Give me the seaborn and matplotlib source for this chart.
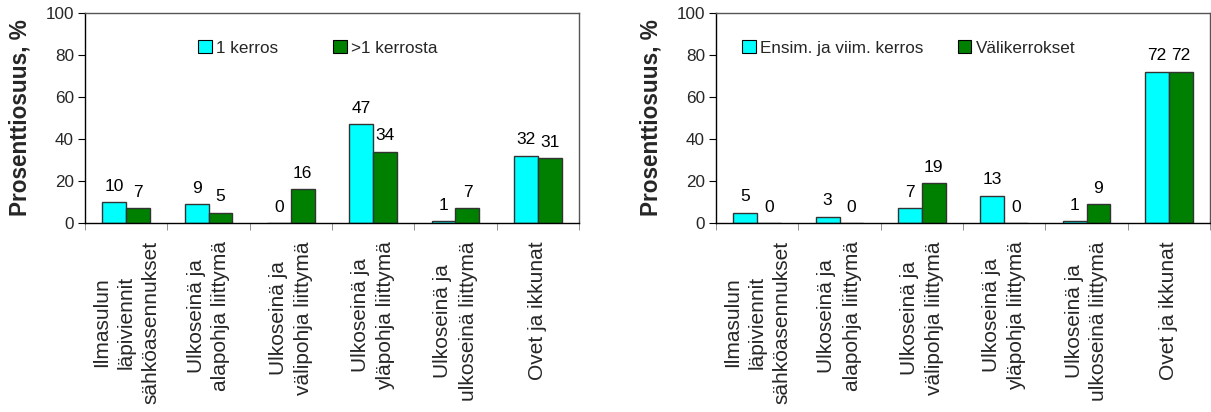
import numpy as np
import pandas as pd
import matplotlib
matplotlib.use("Agg")
import matplotlib.pyplot as plt
from matplotlib.patches import Patch
import seaborn as sns

sns.set_style("white")
plt.rcParams["font.family"] = ["Liberation Sans", "DejaVu Sans"]

categories = [
    "Ilmasulun\nläpiviennit\nsähköasennukset",
    "Ulkoseinä ja\nalapohja liittymä",
    "Ulkoseinä ja\nvälipohja liittymä",
    "Ulkoseinä ja\nyläpohja liittymä",
    "Ulkoseinä ja\nulkoseinä liittymä",
    "Ovet ja ikkunat",
]

# Left chart: single-storey vs multi-storey buildings
left_series = ["1 kerros", ">1 kerrosta"]
left_one_floor = [10, 9, 0, 47, 1, 32]
left_multi_floor = [7, 5, 16, 34, 7, 31]

# Right chart: first/top floors vs intermediate floors
right_series = ["Ensim. ja viim. kerros", "Välikerrokset"]
right_end_floors = [5, 3, 7, 13, 1, 72]
right_mid_floors = [0, 0, 19, 0, 9, 72]

yticks = [0, 20, 40, 60, 80, 100]
ylabel = "Prosenttiosuus, %"
colors = ["#00FFFF", "#008000"]


def long_frame(series_names, first, second):
    return pd.DataFrame({
        "kategoria": categories * 2,
        "sarja": [series_names[0]] * len(categories) + [series_names[1]] * len(categories),
        "arvo": list(first) + list(second),
    })


def draw(ax, series_names, first, second, legend_x, colspace):
    df = long_frame(series_names, first, second)
    sns.barplot(data=df, x="kategoria", y="arvo", hue="sarja", order=categories,
                hue_order=series_names, palette=colors, saturation=1, width=0.58,
                edgecolor="#333333", linewidth=1.0, ax=ax, legend=False)
    for cont in ax.containers:
        ax.bar_label(cont, fmt="%d", padding=6, fontsize=12.5, color="black")

    ax.set_ylim(0, 100)
    ax.set_xlim(-0.5, len(categories) - 0.5)
    ax.set_yticks(yticks)
    ax.tick_params(axis="y", length=5, direction="out", color="black",
                   labelsize=12.3, pad=3, left=True)
    ax.set_xticks(np.arange(-0.5, len(categories), 1), minor=True)
    ax.tick_params(axis="x", which="minor", length=5, direction="out",
                   color="#808080", bottom=True)
    ax.set_xticks(range(len(categories)))
    ax.set_xticklabels(categories, rotation=90, ha="center", va="top",
                       multialignment="center", linespacing=1.4, fontsize=15)
    ax.tick_params(axis="x", which="major", length=0, pad=13)

    ax.set_xlabel("")
    ax.set_ylabel(ylabel, fontsize=16.3, fontweight="bold")
    ax.yaxis.set_label_coords(-0.109, 0.5)

    for side in ["left", "bottom"]:
        ax.spines[side].set_color("black")
        ax.spines[side].set_linewidth(1.0)
    for side in ["top", "right"]:
        ax.spines[side].set_color("#555555")
        ax.spines[side].set_linewidth(1.0)
    ax.grid(False)

    handles = [Patch(facecolor=c, edgecolor="black", linewidth=0.8) for c in colors]
    ax.legend(handles, series_names, loc="center left",
              bbox_to_anchor=(legend_x, 0.833), ncol=2, frameon=False,
              fontsize=12.3, handlelength=0.8, handleheight=0.8,
              handletextpad=0.25, columnspacing=colspace,
              borderaxespad=0, borderpad=0)


fig = plt.figure(figsize=(12.11, 4.12), dpi=100)
ax1 = fig.add_axes([85 / 1211, 189 / 412, 494 / 1211, 210 / 412])
ax2 = fig.add_axes([716 / 1211, 189 / 412, 494 / 1211, 210 / 412])

draw(ax1, left_series, left_one_floor, left_multi_floor, 0.229, 3.2)
draw(ax2, right_series, right_end_floors, right_mid_floors, 0.053, 2.0)

fig.savefig("out.png", dpi=100)
